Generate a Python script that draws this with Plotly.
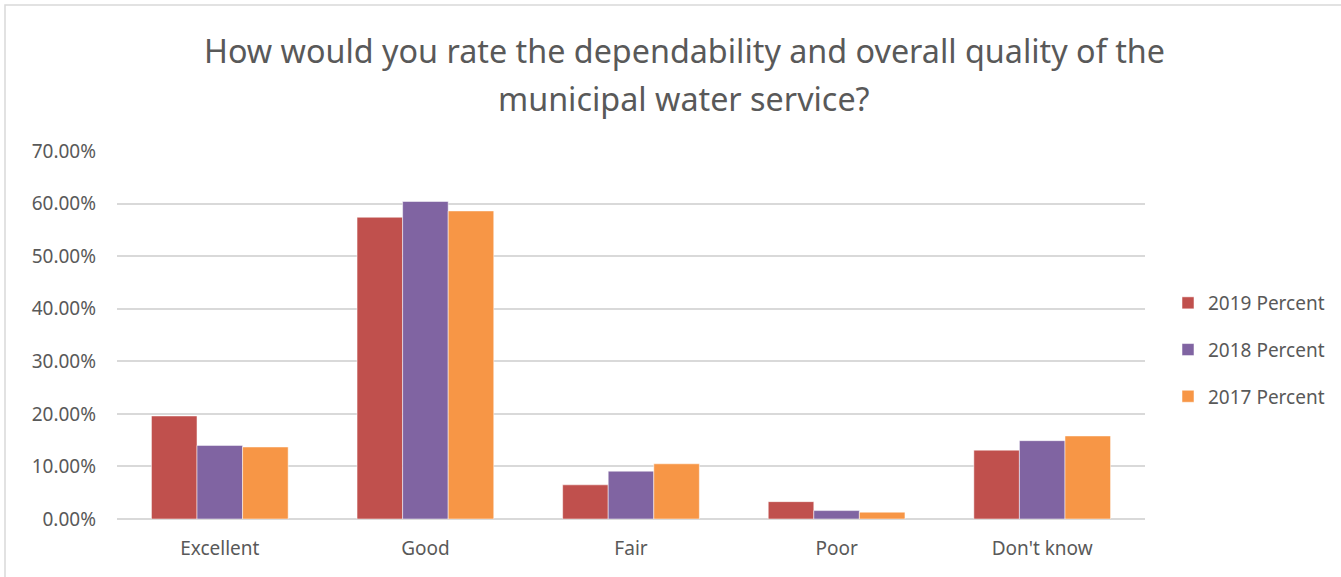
import plotly.graph_objects as go

categories = ["Excellent", "Good", "Fair", "Poor", "Don't know"]
series_names = ["2019 Percent", "2018 Percent", "2017 Percent"]
values_2019 = [0.196, 0.574, 0.065, 0.033, 0.131]
values_2018 = [0.140, 0.604, 0.091, 0.016, 0.149]
values_2017 = [0.137, 0.586, 0.105, 0.013, 0.158]
colors = ["#C0504D", "#8064A2", "#F79646"]
y_ticks = [0, 0.1, 0.2, 0.3, 0.4, 0.5, 0.6, 0.7]
title_lines = ["How would you rate the dependability and overall quality of the",
               "municipal water service?"]

W, H = 1341, 577
L, R, T, B = 117, 196, 151, 58
pw, ph = W - L - R, H - T - B

fig = go.Figure()
for name, vals, col in zip(series_names, [values_2019, values_2018, values_2017], colors):
    fig.add_trace(go.Bar(
        x=categories, y=vals, name=name, legendgroup=name,
        marker=dict(color=col, line=dict(color="rgba(255,255,255,0.5)", width=1)),
    ))

font_family = "Noto Sans, Open Sans, sans-serif"
txt = "#595959"
annotations = []
for line, ypix in zip(title_lines, [50, 98]):
    annotations.append(dict(
        text=line, showarrow=False, xref="paper", yref="paper",
        x=(684 - L) / pw, xanchor="center",
        y=(H - B - ypix) / ph, yanchor="middle",
        font=dict(size=32.3, color=txt, family=font_family),
    ))

fig.update_layout(
    width=W, height=H,
    margin=dict(l=L, r=R, t=T, b=B, autoexpand=False),
    paper_bgcolor="white", plot_bgcolor="white",
    barmode="group", bargap=0.335, bargroupgap=0,
    font=dict(family=font_family, size=19, color=txt),
    annotations=annotations,
    legend=dict(
        x=(1168 - L) / pw, xanchor="left",
        y=(H - B - 350) / ph, yanchor="middle",
        traceorder="grouped", tracegroupgap=19,
        font=dict(size=19, color=txt),
        itemwidth=30,
    ),
    xaxis=dict(showgrid=False, showline=False, ticks="", ticklabelstandoff=16,
               tickfont=dict(size=19, color=txt)),
    yaxis=dict(
        range=[0, 0.7], tickvals=y_ticks, tickformat=".2%",
        showgrid=True, gridcolor="#D9D9D9", gridwidth=1.5,
        zeroline=True, zerolinecolor="#D9D9D9", zerolinewidth=1.5,
        showline=False, ticks="", ticklabelstandoff=20,
        tickfont=dict(size=19, color=txt),
    ),
    shapes=[dict(
        type="rect", xref="paper", yref="paper",
        x0=(5 - L) / pw, x1=(W + 5 - L) / pw,
        y0=(H - B - (H + 5)) / ph, y1=(H - B - 5) / ph,
        line=dict(color="#D9D9D9", width=1.5), fillcolor="rgba(0,0,0,0)", layer="below",
    )],
)

fig.write_html("out.html", config={"displayModeBar": False},
               post_script="document.body.style.margin='0';")
